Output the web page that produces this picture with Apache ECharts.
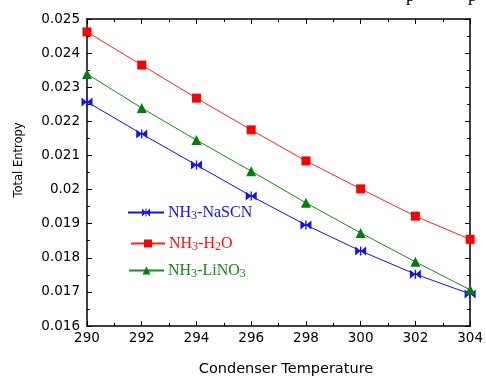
<!DOCTYPE html>
<html>
<head>
<meta charset="utf-8">
<script src="https://cdn.jsdelivr.net/npm/echarts@6/dist/echarts.min.js"></script>
<style>
  html, body { margin: 0; padding: 0; background: #fff; }
  #chart { width: 486px; height: 379px; }
</style>
</head>
<body>
<div id="chart"></div>
<script>
// Condenser temperature (K)
const temperatures = [290, 292, 294, 296, 298, 300, 302, 304];

// Total entropy for each working pair
const nasCN = [0.02257, 0.02163, 0.02072, 0.01981, 0.01896, 0.01820, 0.01752, 0.01694];
const h2o   = [0.02462, 0.02365, 0.02268, 0.02175, 0.02084, 0.02002, 0.01922, 0.01854];
const lino3 = [0.02339, 0.02239, 0.02145, 0.02054, 0.01961, 0.01873, 0.01788, 0.01706];

const seriesNames = ['NH3-NaSCN', 'NH3-H2O', 'NH3-LiNO3'];
const xTicks = { min: 290, max: 304, interval: 2 };
const yTicks = { min: 0.016, max: 0.025, interval: 0.001 };

const bowtie = 'path://M0,0 L5,5 L0,10 Z M10,0 L10,10 L5,5 Z M4.4,0 L5.6,0 L5.6,10 L4.4,10 Z';

const serifFont = '"Liberation Serif", "DejaVu Serif", serif';
const sansFont = '"DejaVu Sans", "Liberation Sans", sans-serif';

function pair(data) {
  return temperatures.map((t, i) => [t, data[i]]);
}

function richFor(color) {
  return {
    n: { fontFamily: serifFont, fontSize: 16, color: color, lineHeight: 18 },
    s: { fontFamily: serifFont, fontSize: 12, color: color, lineHeight: 18, padding: [7, 0, 0, 0] }
  };
}

const labelParts = {
  'NH3-NaSCN': '{n|NH}{s|3}{n|-NaSCN}',
  'NH3-H2O': '{n|NH}{s|3}{n|-H}{s|2}{n|O}',
  'NH3-LiNO3': '{n|NH}{s|3}{n|-LiNO}{s|3}'
};

function legendFor(name, color, left, top, width) {
  return {
    data: [name],
    left: left,
    top: top,
    padding: 0,
    itemWidth: width,
    itemHeight: 10,
    itemGap: 0,
    selectedMode: false,
    formatter: n => labelParts[n],
    textStyle: { rich: richFor(color), padding: [0, 0, 0, -1] }
  };
}

const axisLine = { show: true, lineStyle: { color: '#000', width: 1.5 } };
const tickStyle = { color: '#000', width: 1 };

const chart = echarts.init(document.getElementById('chart'), null, { renderer: 'canvas' });

chart.setOption({
  animation: false,
  backgroundColor: '#fff',
  grid: { left: 87, right: 14, top: 19, bottom: 53 },
  legend: [
    legendFor(seriesNames[0], '#1010ff', 127, 203, 36),
    legendFor(seriesNames[1], '#ff1010', 130, 234, 34),
    legendFor(seriesNames[2], '#108a10', 128, 261, 35)
  ],
  xAxis: [
    {
      type: 'value', min: xTicks.min, max: xTicks.max, interval: xTicks.interval,
      axisLine: axisLine,
      axisTick: { show: true, inside: true, length: 5, lineStyle: tickStyle },
      minorTick: { show: true, splitNumber: 2, length: 3, lineStyle: tickStyle },
      axisLabel: { fontFamily: sansFont, fontSize: 13.5, color: '#000', margin: 5 },
      splitLine: { show: false }
    },
    {
      type: 'value', position: 'top', min: xTicks.min, max: xTicks.max, interval: xTicks.interval,
      axisLine: axisLine,
      axisTick: { show: true, inside: true, length: 5, lineStyle: tickStyle },
      minorTick: { show: true, splitNumber: 2, length: 3, lineStyle: tickStyle },
      axisLabel: { show: false },
      splitLine: { show: false }
    }
  ],
  yAxis: [
    {
      type: 'value', min: yTicks.min, max: yTicks.max, interval: yTicks.interval,
      axisLine: axisLine,
      axisTick: { show: true, inside: true, length: 5, lineStyle: tickStyle },
      minorTick: { show: true, splitNumber: 2, length: 3, lineStyle: tickStyle },
      axisLabel: {
        fontFamily: sansFont, fontSize: 13.5, color: '#000', margin: 7,
        formatter: v => String(parseFloat(v.toFixed(4)))
      },
      splitLine: { show: false }
    },
    {
      type: 'value', position: 'right', min: yTicks.min, max: yTicks.max, interval: yTicks.interval,
      axisLine: axisLine,
      axisTick: { show: true, inside: true, length: 5, lineStyle: tickStyle },
      minorTick: { show: true, splitNumber: 2, length: 3, lineStyle: tickStyle },
      axisLabel: { show: false },
      splitLine: { show: false }
    }
  ],
  graphic: [
    {
      type: 'text', x: 286, y: 369,
      style: { text: 'Condenser Temperature', font: '14.5px ' + sansFont, fill: '#000', align: 'center', verticalAlign: 'middle' }
    },
    {
      type: 'text', x: 19, y: 160, rotation: Math.PI / 2,
      style: { text: 'Total Entropy', font: '11.5px ' + sansFont, fill: '#000', align: 'center', verticalAlign: 'middle' }
    },
    { type: 'text', x: 406, y: 5.5, style: { text: 'p', font: '18px ' + serifFont, fill: '#000', verticalAlign: 'bottom' } },
    { type: 'text', x: 468, y: 5.5, style: { text: 'p', font: '18px ' + serifFont, fill: '#000', verticalAlign: 'bottom' } }
  ],
  series: [
    {
      name: seriesNames[0], type: 'line', data: pair(nasCN),
      symbol: bowtie, symbolSize: [11, 9], showAllSymbol: true,
      lineStyle: { color: '#1010ff', width: 1 },
      itemStyle: { color: '#1010ff' }
    },
    {
      name: seriesNames[1], type: 'line', data: pair(h2o),
      symbol: 'rect', symbolSize: 9,
      lineStyle: { color: '#ff2020', width: 1 },
      itemStyle: { color: '#ff0000' }
    },
    {
      name: seriesNames[2], type: 'line', data: pair(lino3),
      symbol: 'triangle', symbolSize: 10,
      lineStyle: { color: '#109010', width: 1 },
      itemStyle: { color: '#008000' }
    }
  ]
});
</script>
</body>
</html>
